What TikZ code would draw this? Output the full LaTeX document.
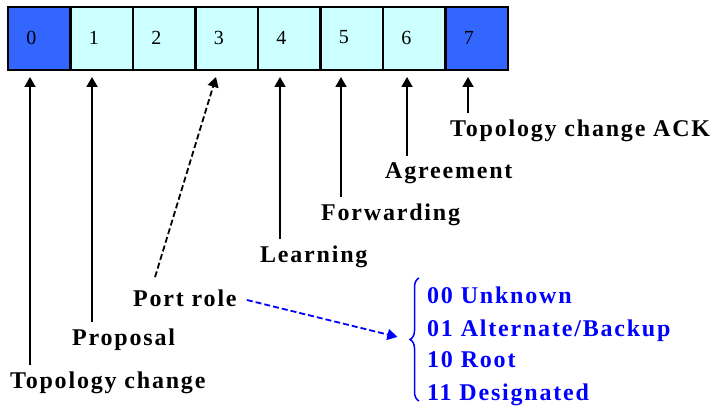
\documentclass[tikz,border=0pt]{standalone}
\usepackage{fontspec}
\setmainfont{Liberation Serif}
\newfontfamily\lblfont{Liberation Serif Bold}[LetterSpace=7.5]
\usetikzlibrary{arrows.meta,decorations.pathreplacing,calc}
\definecolor{dblue}{HTML}{3366FF}
\definecolor{lcyan}{HTML}{CCFFFF}
\definecolor{pblue}{HTML}{0000FF}
\begin{document}
\begin{tikzpicture}[x=1pt,y=-1pt,
  cell/.style={draw=black,line width=2.5pt,minimum width=62.5pt,minimum height=63pt,inner sep=0pt,outer sep=0pt},
  dig/.style={font=\fontsize{20}{24}\selectfont,inner sep=0pt},
  lbl/.style={font=\lblfont\fontsize{24}{28}\selectfont,anchor=base west,inner xsep=0pt,inner ysep=6pt},
  blbl/.style={lbl,text=pblue},
  arr/.style={line width=1.8pt,-{Triangle[width=11pt,length=10pt]}},
  dsh/.style={dash pattern=on 6pt off 3pt},
]
\useasboundingbox (0,0) rectangle (719,409);
% bit cells
\foreach \i/\c in {0/dblue,1/lcyan,2/lcyan,3/lcyan,4/lcyan,5/lcyan,6/lcyan,7/dblue}
  \node[cell,fill=\c,label={[dig,xshift=-8pt,yshift=1pt]center:\i}] (c\i) at ({39.25+62.5*\i},38.5) {};
% arrow tip points
\coordinate (t0) at (30,77);
\coordinate (t1) at (92,77);
\coordinate (t3) at (216,77);
\coordinate (t4) at (280,77);
\coordinate (t5) at (341,77);
\coordinate (t6) at (407,77);
\coordinate (t7) at (468,77);
% labels
\node[lbl] (l0) at (10,388) {Topology change};
\node[lbl] (l1) at (72,345) {Proposal};
\node[lbl] (l3) at (133,306) {Port role};
\node[lbl] (l4) at (260,262) {Learning};
\node[lbl] (l5) at (321,220) {Forwarding};
\node[lbl] (l6) at (385,178) {Agreement};
\node[lbl] (l7) at (450,136) {Topology change ACK};
% connectors
\draw[arr] (t0 |- l0.north) -- (t0);
\draw[arr] (t1 |- l1.north) -- (t1);
\draw[arr,dsh] ($(l3.north west)+(22,-6)$) -- (t3);
\draw[arr] (t4 |- l4.north) -- (t4);
\draw[arr] (t5 |- l5.north) -- (t5);
\draw[arr] (t6 |- l6.north) -- (t6);
\draw[arr] (t7 |- l7.north) -- (t7);
% port role values
\coordinate (bbot) at (419,401);
\coordinate (btop) at (419,278);
\coordinate (bt) at (410,340);
\draw[pblue,line width=1.5pt,decorate,decoration={brace,amplitude=9pt}] (bbot) -- (btop);
\draw[arr,pblue,dsh,shorten >=13pt] ($(l3.base east)+(10,-6)$) -- (bt);
\node[blbl] (b0) at (427,303) {00 Unknown};
\node[blbl] (b1) at (427,336) {01 Alternate/Backup};
\node[blbl] (b2) at (427,367) {10 Root};
\node[blbl] (b3) at (427,400) {11 Designated};
\end{tikzpicture}
\end{document}
